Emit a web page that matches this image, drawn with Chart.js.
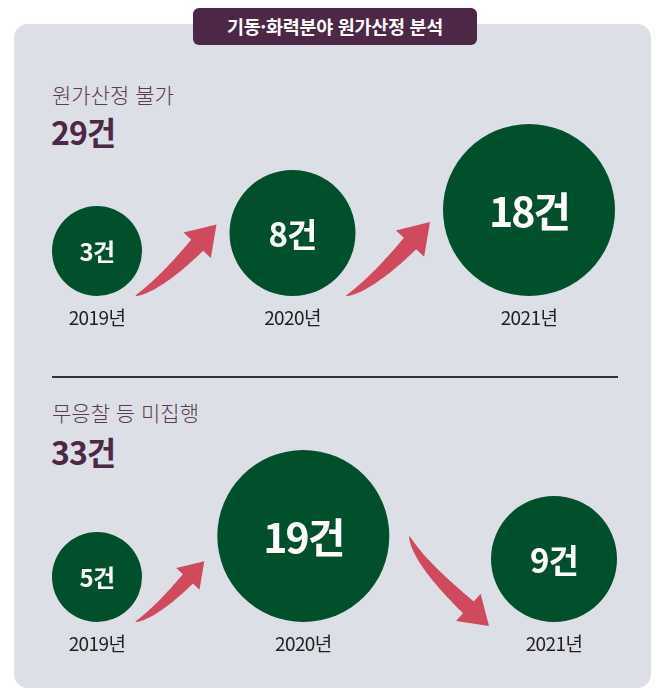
<!DOCTYPE html>
<html lang="ko">
<head>
<meta charset="utf-8">
<script src="https://cdn.jsdelivr.net/npm/chart.js@4.4.1/dist/chart.umd.min.js"></script>
<style>
body { margin:0; background:#fff; font-family:"Noto Sans CJK KR", sans-serif; }
#wrap { position:relative; width:665px; height:699px; overflow:hidden; }
.panel { position:absolute; left:14px; top:24px; width:637px; height:664px; background:#dcdfe5; border-radius:14px; }
.badge { position:absolute; left:193px; top:8px; width:284px; height:37px; background:#4d2746; border-radius:6px;
	color:#fff; font-weight:700; font-size:18.5px; line-height:36px; text-align:center; letter-spacing:-0.3px; }
.sub { position:absolute; left:52px; font-size:21px; font-weight:300; color:#5a3b56; line-height:1; }
.total { position:absolute; left:51px; font-size:32px; font-weight:700; color:#4d2746; line-height:1; letter-spacing:-1px; }
.rule { position:absolute; left:52px; top:376px; width:566px; height:2px; background:#333; }
#bubbles { position:absolute; left:0; top:0; }
</style>
</head>
<body>
<div id="wrap">
	<div class="panel"></div>
	<div class="badge" id="badge"></div>
	<div class="sub" id="sub1" style="top:84px"></div>
	<div class="total" id="total1" style="top:115px"></div>
	<div class="rule"></div>
	<div class="sub" id="sub2" style="top:402px"></div>
	<div class="total" id="total2" style="top:435px"></div>
	<canvas id="bubbles" width="665" height="699"></canvas>
</div>
<script>
// 데이터
const chartTitle = '기동·화력분야 원가산정 분석';
const years = ['2019년', '2020년', '2021년'];
const sectionTitles = ['원가산정 불가', '무응찰 등 미집행'];
const costUnavailable = [3, 8, 18];   // 원가산정 불가
const noBid = [5, 19, 9];             // 무응찰 등 미집행
const unit = '건';

// 크기(작은 값 -> 큰 값 순위별)
const radiusByRank = [45, 63, 86];
const fontByRank = [24, 33, 41];
const spacingByRank = [-0.5, -1, -2];

const GREEN = '#00502b';
const ARROW = '#cf4a5d';

function sum(arr) {
	return arr.reduce(function(s, v) { return s + v; }, 0);
}

document.getElementById('badge').textContent = chartTitle;
document.getElementById('sub1').textContent = sectionTitles[0];
document.getElementById('sub2').textContent = sectionTitles[1];
document.getElementById('total1').textContent = sum(costUnavailable) + unit;
document.getElementById('total2').textContent = sum(noBid) + unit;

function rankOf(values, v) {
	let sorted = values.slice().sort(function(a, b) { return a - b; });
	return sorted.indexOf(v);
}

// 원을 좌우 경계 안에 배치 (아래쪽 맞춤, 감소 화살표 자리는 조금 넓게)
function layout(values, left, right, bottom) {
	let rs = values.map(function(v) { return radiusByRank[rankOf(values, v)]; });
	let used = rs.reduce(function(s, r) { return s + 2 * r; }, 0);
	let weights = [];
	for (let i = 1; i < values.length; i++) weights.push(values[i] >= values[i-1] ? 1 : 1.35);
	let unitGap = (right - left - used) / sum(weights);
	let x = left;
	return values.map(function(v, i) {
		let p = { x: x + rs[i], y: bottom - rs[i], r: rs[i], v: v, rank: rankOf(values, v) };
		x += 2 * rs[i] + (i < weights.length ? weights[i] * unitGap : 0);
		return p;
	});
}

// 휘어진 화살표 (꼬리 방향 tailDir, 머리 방향 dir)
function drawArrow(ctx, tail, tailDir, tip, dir, W) {
	let headLen = 0.35 * W, headHalf = 0.23 * W, bodyHalf = 0.1 * W;
	let neck = { x: tip.x - dir.x * headLen, y: tip.y - dir.y * headLen };
	// 꼬리 직선과 목 뒤쪽 직선의 교점을 제어점으로
	let det = tailDir.x * dir.y - tailDir.y * dir.x;
	let rx = neck.x - tail.x, ry = neck.y - tail.y;
	let s = (rx * dir.y - ry * dir.x) / det;
	let ctrl = { x: tail.x + tailDir.x * s, y: tail.y + tailDir.y * s };
	let upper = [], lower = [];
	let N = 40;
	for (let i = 0; i <= N; i++) {
		let t = i / N;
		let px = (1-t)*(1-t)*tail.x + 2*(1-t)*t*ctrl.x + t*t*neck.x;
		let py = (1-t)*(1-t)*tail.y + 2*(1-t)*t*ctrl.y + t*t*neck.y;
		let tx = 2*(1-t)*(ctrl.x - tail.x) + 2*t*(neck.x - ctrl.x);
		let ty = 2*(1-t)*(ctrl.y - tail.y) + 2*t*(neck.y - ctrl.y);
		let len = Math.hypot(tx, ty) || 1;
		let nx = -ty / len, ny = tx / len;
		let w = bodyHalf * Math.pow(t, 0.7);
		upper.push([px + nx * w, py + ny * w]);
		lower.push([px - nx * w, py - ny * w]);
	}
	ctx.beginPath();
	ctx.moveTo(upper[0][0], upper[0][1]);
	upper.forEach(function(p) { ctx.lineTo(p[0], p[1]); });
	let nx = -dir.y, ny = dir.x;
	ctx.lineTo(neck.x + nx * headHalf, neck.y + ny * headHalf);
	ctx.lineTo(tip.x, tip.y);
	ctx.lineTo(neck.x - nx * headHalf, neck.y - ny * headHalf);
	for (let i = lower.length - 1; i >= 0; i--) ctx.lineTo(lower[i][0], lower[i][1]);
	ctx.closePath();
	ctx.fillStyle = ARROW;
	ctx.fill();
}

const decoPlugin = {
	id: 'deco',
	beforeDatasetsDraw: function(chart) {
		let ctx = chart.ctx;
		ctx.save();
		chart.data.datasets.forEach(function(ds, di) {
			let els = chart.getDatasetMeta(di).data;
			for (let i = 1; i < els.length; i++) {
				let a = els[i-1], b = els[i];
				let ra = a.options.radius, rb = b.options.radius;
				if (ds.data[i].v >= ds.data[i-1].v) {
					let bottom = a.y + ra;
					let tail = { x: a.x + ra * 0.85, y: bottom };
					let tipX = b.x - rb - 13;
					let W = tipX - tail.x;
					let tip = { x: tipX, y: bottom - 0.88 * W };
					drawArrow(ctx, tail, { x: 0.92, y: -0.39 }, tip, { x: 0.68, y: -0.73 }, W);
				} else {
					let tail = { x: a.x + ra + 20, y: a.y };
					let tip = { x: b.x - rb - 2, y: b.y + rb + 4 };
					let W = tip.x - tail.x;
					drawArrow(ctx, tail, { x: 0.3, y: 0.95 }, tip, { x: 0.74, y: 0.67 }, W);
				}
			}
		});
		ctx.restore();
	},
	afterDatasetsDraw: function(chart) {
		let ctx = chart.ctx;
		ctx.save();
		ctx.textAlign = 'center';
		ctx.textBaseline = 'middle';
		chart.data.datasets.forEach(function(ds, di) {
			let els = chart.getDatasetMeta(di).data;
			els.forEach(function(el, i) {
				let p = ds.data[i];
				let r = el.options.radius;
				// 원 안 건수
				ctx.fillStyle = '#ffffff';
				ctx.font = 'bold ' + fontByRank[p.rank] + 'px "Noto Sans CJK KR"';
				ctx.letterSpacing = spacingByRank[p.rank] + 'px';
				ctx.fillText(p.v + unit, el.x, el.y + 1);
				// 연도
				ctx.fillStyle = '#231f20';
				ctx.font = '19px "Noto Sans CJK KR"';
				ctx.letterSpacing = '-0.6px';
				ctx.fillText(years[i], el.x, el.y + r + 22);
			});
		});
		ctx.restore();
	}
};

let ctx = document.getElementById('bubbles').getContext('2d');
let bubbleChart = new Chart(ctx, {
	type: 'bubble',
	data: {
		datasets: [{
			label: sectionTitles[0],
			data: layout(costUnavailable, 52, 615, 296),
			backgroundColor: GREEN,
			borderWidth: 0,
			clip: false
		}, {
			label: sectionTitles[1],
			data: layout(noBid, 52, 617, 622),
			backgroundColor: GREEN,
			borderWidth: 0,
			clip: false
		}]
	},
	options: {
		responsive: false,
		animation: false,
		events: [],
		layout: { padding: 0, autoPadding: false },
		scales: {
			x: { type: 'linear', min: 0, max: 665, display: false },
			y: { type: 'linear', min: 0, max: 699, reverse: true, display: false }
		},
		plugins: {
			legend: { display: false },
			tooltip: { enabled: false }
		}
	},
	plugins: [decoPlugin]
});
</script>
</body>
</html>
